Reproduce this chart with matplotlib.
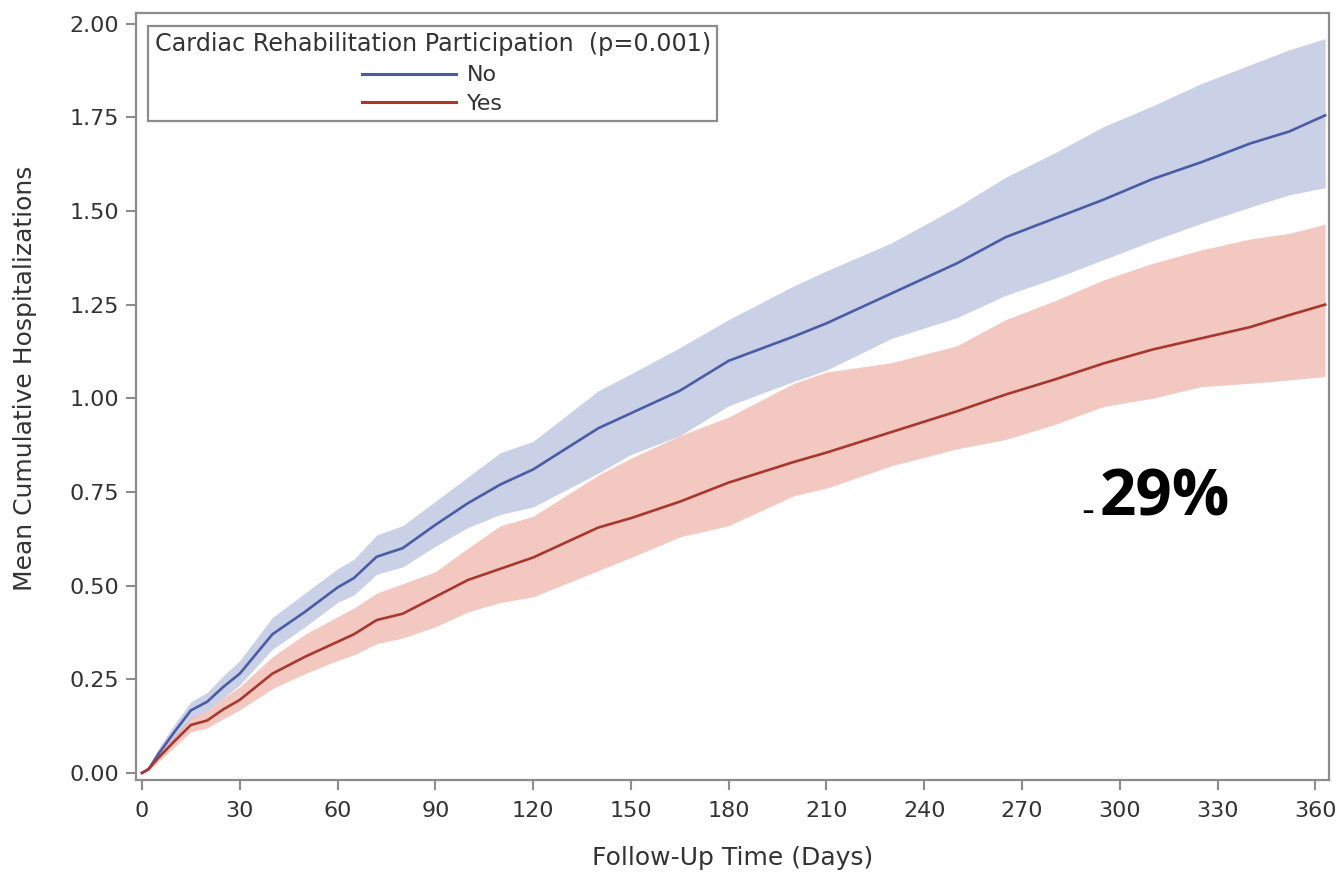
import matplotlib.pyplot as plt
from matplotlib.lines import Line2D

days = [0, 2, 5, 10, 15, 20, 25, 30, 40, 50, 60, 65, 72, 80, 90, 100, 110, 120,
        140, 150, 165, 180, 200, 210, 230, 250, 265, 280, 295, 310, 325, 340, 352, 363]

# No cardiac rehab (blue)
no_mean = [0.0, 0.01, 0.05, 0.11, 0.167, 0.19, 0.23, 0.265, 0.37, 0.43, 0.495, 0.52,
           0.577, 0.60, 0.662, 0.72, 0.77, 0.81, 0.92, 0.96, 1.02, 1.10, 1.165, 1.20,
           1.28, 1.36, 1.43, 1.48, 1.53, 1.585, 1.63, 1.68, 1.712, 1.755]
no_upper = [0.0, 0.015, 0.065, 0.13, 0.19, 0.215, 0.26, 0.30, 0.415, 0.48, 0.545, 0.57,
            0.635, 0.66, 0.725, 0.79, 0.855, 0.885, 1.02, 1.065, 1.135, 1.21, 1.30, 1.34,
            1.415, 1.51, 1.59, 1.655, 1.725, 1.78, 1.84, 1.89, 1.93, 1.96]
no_lower = [0.0, 0.008, 0.04, 0.09, 0.145, 0.165, 0.20, 0.235, 0.33, 0.39, 0.455, 0.475,
            0.53, 0.55, 0.605, 0.655, 0.69, 0.71, 0.80, 0.85, 0.90, 0.98, 1.045, 1.075,
            1.16, 1.215, 1.275, 1.32, 1.37, 1.42, 1.467, 1.51, 1.543, 1.562]

# Cardiac rehab participants (red)
yes_mean = [0.0, 0.01, 0.04, 0.085, 0.128, 0.14, 0.17, 0.195, 0.265, 0.31, 0.35, 0.37,
            0.408, 0.425, 0.47, 0.515, 0.545, 0.575, 0.655, 0.68, 0.724, 0.775, 0.83, 0.855,
            0.91, 0.965, 1.01, 1.05, 1.093, 1.13, 1.16, 1.19, 1.222, 1.25]
yes_upper = [0.0, 0.012, 0.05, 0.10, 0.147, 0.165, 0.20, 0.23, 0.31, 0.37, 0.417, 0.44,
             0.48, 0.505, 0.537, 0.60, 0.66, 0.685, 0.795, 0.84, 0.90, 0.95, 1.04, 1.07,
             1.095, 1.14, 1.21, 1.26, 1.316, 1.36, 1.396, 1.425, 1.44, 1.465]
yes_lower = [0.0, 0.006, 0.03, 0.07, 0.11, 0.12, 0.145, 0.168, 0.225, 0.265, 0.30, 0.315,
             0.345, 0.36, 0.39, 0.43, 0.455, 0.47, 0.54, 0.575, 0.63, 0.66, 0.74, 0.76,
             0.82, 0.865, 0.89, 0.93, 0.978, 1.0, 1.031, 1.04, 1.049, 1.058]

x_ticks = list(range(0, 361, 30))
y_ticks = [0.0, 0.25, 0.5, 0.75, 1.0, 1.25, 1.5, 1.75, 2.0]

blue = "#4a5ca6"
red = "#a8382f"
axis_gray = "#8c8c8c"
text_gray = "#333333"

fig = plt.figure(figsize=(13.38, 8.74), dpi=100)
ax = fig.add_axes([0.1016, 0.1076, 0.8917, 0.877])

# confidence bands
ax.fill_between(days, no_lower, no_upper, color="#aab3d8", alpha=0.62, linewidth=0, zorder=1)
ax.fill_between(days, yes_lower, yes_upper, color="#eda79b", alpha=0.62, linewidth=0, zorder=2)

# mean curves
ax.plot(days, no_mean, color=blue, linewidth=1.9, zorder=3)
ax.plot(days, yes_mean, color=red, linewidth=1.9, zorder=3)

ax.set_xlim(-1.85, 364.2)
ax.set_ylim(-0.0187, 2.027)
ax.set_xticks(x_ticks)
ax.set_yticks(y_ticks)
ax.set_yticklabels([f"{v:.2f}" for v in y_ticks])

for side in ["left", "right", "top", "bottom"]:
    ax.spines[side].set_color(axis_gray)
    ax.spines[side].set_linewidth(1.6)

ax.tick_params(axis="both", direction="out", length=7, width=1.5, color=axis_gray,
               labelsize=16, labelcolor=text_gray)
ax.tick_params(axis="x", pad=8)
ax.tick_params(axis="y", pad=5)

ax.set_xlabel("Follow-Up Time (Days)", fontsize=18, color=text_gray)
ax.set_ylabel("Mean Cumulative Hospitalizations", fontsize=18, color=text_gray)
ax.xaxis.set_label_coords(0.5, -0.086)
ax.yaxis.set_label_coords(-0.083, 0.5245)

# Legend
handles = [Line2D([0], [0], color=blue, linewidth=2.2),
           Line2D([0], [0], color=red, linewidth=2.2)]
leg = ax.legend(handles, ["No", "Yes"], title="Cardiac Rehabilitation Participation  (p=0.001)",
                loc="upper left", bbox_to_anchor=(0.01, 0.984), borderaxespad=0,
                fontsize=16, title_fontsize=17.2, handlelength=4.2, handletextpad=0.5,
                labelspacing=0.4, borderpad=0.3, fancybox=False, framealpha=1,
                edgecolor=axis_gray)
leg.get_frame().set_linewidth(1.6)
leg.get_title().set_color(text_gray)
for t in leg.get_texts():
    t.set_color(text_gray)

# Annotation
ax.text(0.8625, 0.3444, "29%", transform=ax.transAxes, ha="center", va="baseline",
        fontsize=46, fontweight="bold", family="Open Sans", color="black")
ax.text(0.7975, 0.338, "-", transform=ax.transAxes, ha="center", va="baseline",
        fontsize=26, color="black")

fig.savefig("out.png", dpi=100)
